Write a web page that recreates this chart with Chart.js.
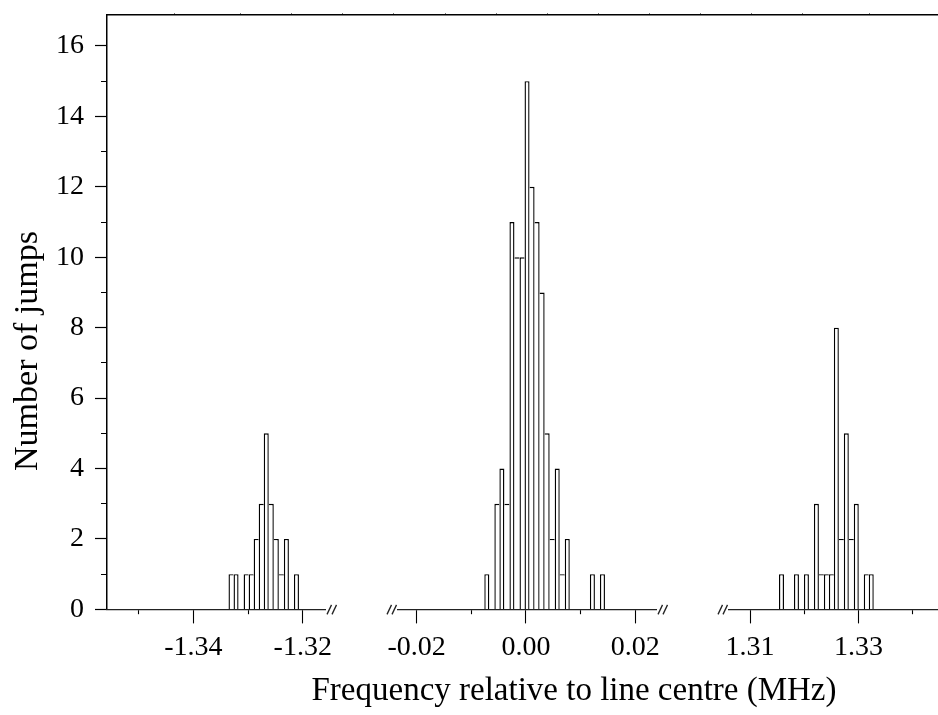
<!DOCTYPE html>
<html>
<head>
<meta charset="utf-8">
<title>Number of jumps</title>
<script src="https://cdn.jsdelivr.net/npm/chart.js@4.4.0/dist/chart.umd.min.js"></script>
<style>
    html, body { margin: 0; padding: 0; background: #fff; }
    #wrap { position: relative; width: 938px; height: 715px; }
</style>
</head>
<body>
<div id="wrap"><canvas id="graficoSaltos"></canvas></div>
<script>
// Histogram bins (MHz from line centre), one block per line
const binWidth = 0.00092;

const lowStart = -1.33357;
const lowCounts = [1, 1, 0, 1, 1, 2, 3, 5, 3, 2, 1, 2, 0, 1];

const midStart = -0.00763;
const midCounts = [1, 0, 3, 4, 3, 11, 10, 10, 15, 12, 11, 9, 5, 2, 4, 1, 2, 0, 0, 0, 0, 1, 0, 1];

const highStart = 1.31535;
const highCounts = [1, 0, 0, 1, 0, 1, 0, 3, 1, 1, 1, 8, 2, 5, 2, 3, 0, 1, 1];

// Visible windows of the broken frequency axis
const lowRange = [-1.35578, -1.31593];
const midRange = [-0.023422, 0.023788];
const highRange = [1.306125, 1.344686];

// Labelled ticks (the others are minor)
const lowTicks = ['-1.34', '-1.32'];
const midTicks = ['-0.02', '0.00', '0.02'];
const highTicks = ['1.31', '1.33'];
const countTicks = ['0', '2', '4', '6', '8', '10', '12', '14', '16'];
const countMax = 16.88;

const serif = "'Liberation Serif', 'Times New Roman', serif";

document.addEventListener('DOMContentLoaded', () => {
    const canvas = document.getElementById('graficoSaltos');

    const findLabel = (labels, v) => labels.find(l => Math.abs(Number(l) - v) < 1e-6);

    // one piece of the broken x axis
    function segmentAxis(range, labels, weight) {
        return {
            type: 'linear', position: 'bottom', stack: 'freq', stackWeight: weight,
            min: range[0], max: range[1], offset: false,
            border: { color: '#222', width: 1.2 },
            grid: {
                offset: false, drawOnChartArea: false,
                tickLength: 14, tickColor: '#000', tickWidth: 1.1,
                // minor ticks: only the first 4px of the tick
                tickBorderDash: ctx => (ctx.tick && findLabel(labels, ctx.tick.value) === undefined) ? [4, 40] : []
            },
            ticks: {
                stepSize: 0.01, includeBounds: false, autoSkip: false,
                maxRotation: 0, minRotation: 0, padding: 7,
                color: '#000', font: { family: serif, size: 28 },
                callback: v => findLabel(labels, v) || ''
            },
            afterFit: s => { s.paddingLeft = 0; s.paddingRight = 0; }
        };
    }

    // empty space between two pieces
    function gapAxis(weight) {
        return {
            type: 'linear', position: 'bottom', stack: 'freq', stackWeight: weight,
            min: 0, max: 1,
            grid: { display: false }, border: { display: false }, ticks: { display: false }
        };
    }

    function histogram(start, counts, axisId) {
        return {
            label: 'Number of jumps',
            xAxisID: axisId, yAxisID: 'y',
            data: counts.map((c, i) => ({ x: start + (i + 0.5) * binWidth, y: c })),
            grouped: false,
            backgroundColor: '#fff',
            borderColor: '#000',
            // shared edges drawn once, by the taller bar
            borderWidth: ctx => {
                const i = ctx.dataIndex;
                if (i === undefined) return 1;
                const c = counts[i], prev = counts[i - 1] || 0, next = counts[i + 1] || 0;
                const w = 1.4;
                return { top: w, left: prev <= c ? w : 0, right: next < c ? w : 0, bottom: 0 };
            },
            borderSkipped: 'bottom',
            barPercentage: 1, categoryPercentage: 1, inflateAmount: 0
        };
    }

    // axis breaks and the two axis titles
    const breaksAndTitles = {
        id: 'breaksAndTitles',
        afterDraw(chart) {
            const { ctx, chartArea, scales } = chart;
            const base = chartArea.bottom;
            ctx.save();
            ctx.strokeStyle = '#222';
            ctx.lineWidth = 1.3;
            const mark = x0 => {
                for (let k = 0; k < 2; k++) {
                    ctx.beginPath();
                    ctx.moveTo(x0 + 5 * k, base + 5);
                    ctx.lineTo(x0 + 5 * k + 4.5, base - 4.5);
                    ctx.stroke();
                }
            };
            mark(scales.xLow.right + 2);
            mark(scales.xMid.left - 11);
            mark(scales.xMid.right + 2);
            mark(scales.xHigh.left - 11);

            ctx.fillStyle = '#000';
            ctx.textAlign = 'center';
            ctx.textBaseline = 'alphabetic';
            ctx.font = `33px ${serif}`;
            ctx.fillText('Frequency relative to line centre (MHz)', chartArea.left + 467, base + 91);

            ctx.translate(chartArea.left - 70.5, chartArea.top + 336);
            ctx.rotate(-Math.PI / 2);
            ctx.font = `34px ${serif}`;
            ctx.fillText('Number of jumps', 0, 0);
            ctx.restore();
        }
    };

    new Chart(canvas, {
        type: 'bar',
        data: {
            datasets: [
                histogram(lowStart, lowCounts, 'xLow'),
                histogram(midStart, midCounts, 'xMid'),
                histogram(highStart, highCounts, 'xHigh')
            ]
        },
        options: {
            responsive: true, maintainAspectRatio: false, animation: false,
            events: [],
            layout: { padding: { left: 45, top: 13, right: 0, bottom: 44 } },
            plugins: { legend: { display: false }, tooltip: { enabled: false } },
            scales: {
                y: {
                    type: 'linear', position: 'left', min: 0, max: countMax,
                    border: { color: '#000', width: 1.5 },
                    grid: {
                        drawOnChartArea: false, tickLength: 12, tickColor: '#000', tickWidth: 1.2,
                        tickBorderDash: ctx => (ctx.tick && !countTicks.includes(String(ctx.tick.value))) ? [0, 6, 6, 30] : []
                    },
                    ticks: {
                        stepSize: 1, includeBounds: false, autoSkip: false, padding: 11,
                        color: '#000', font: { family: serif, size: 28 },
                        callback: v => countTicks.includes(String(v)) ? String(v) : ''
                    },
                    afterFit: s => { s.paddingTop = 0; s.paddingBottom = 0; }
                },
                xLow: segmentAxis(lowRange, lowTicks, 218),
                gapA: gapAxis(73),
                xMid: segmentAxis(midRange, midTicks, 258),
                gapB: gapAxis(73),
                xHigh: segmentAxis(highRange, highTicks, 209),
                xFrame: {
                    type: 'linear', position: 'top', min: lowRange[0], max: lowRange[0] + 0.1519,
                    border: { color: '#000', width: 1.5 },
                    grid: { drawOnChartArea: false, tickLength: 2, tickColor: '#777' },
                    ticks: { display: false, stepSize: 0.01 }
                }
            }
        },
        plugins: [breaksAndTitles]
    });
});
</script>
</body>
</html>
